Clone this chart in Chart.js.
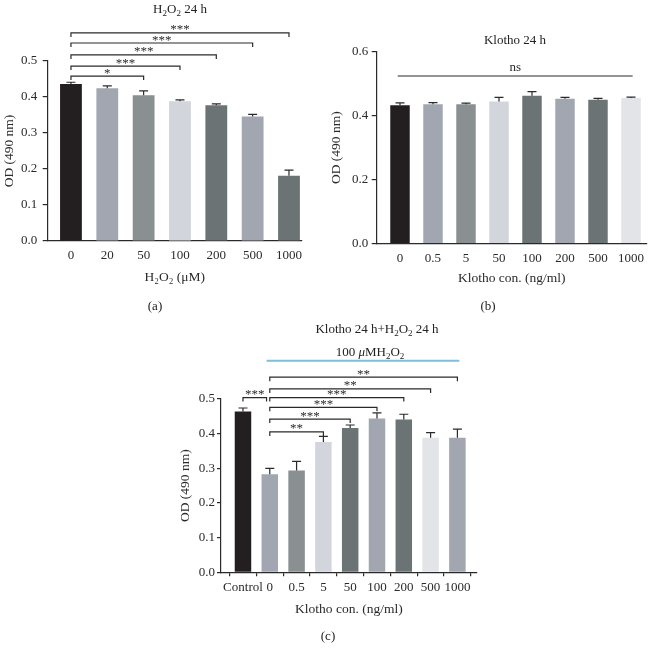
<!DOCTYPE html>
<html>
<head>
<meta charset="utf-8">
<script src="https://cdn.jsdelivr.net/npm/chart.js@4.4.1/dist/chart.umd.min.js"></script>
<style>
    body { margin: 0; background: #fff; width: 654px; height: 653px; position: relative; overflow: hidden;
           font-family: "Liberation Serif", "DejaVu Serif", serif; color: #222; }
    canvas { position: absolute; }
    .txt { position: absolute; font-size: 13px; line-height: 1; white-space: nowrap; transform: translate(-50%, -50%); }
    .txt sub { font-size: 9px; vertical-align: -3px; line-height: 0; }
</style>
</head>
<body>
<canvas id="chartA" width="310" height="320" style="left:0;top:0"></canvas>
<canvas id="chartB" width="344" height="320" style="left:310px;top:0"></canvas>
<canvas id="chartC" width="330" height="333" style="left:160px;top:320px"></canvas>

<div class="txt" style="left:180px;top:8px">H<sub>2</sub>O<sub>2</sub> 24 h</div>
<div class="txt" style="left:155px;top:305px">(a)</div>
<div class="txt" style="left:515px;top:39px">Klotho 24 h</div>
<div class="txt" style="left:488px;top:305px">(b)</div>
<div class="txt" style="left:377px;top:328px">Klotho 24 h+H<sub>2</sub>O<sub>2</sub> 24 h</div>
<div class="txt" style="left:370px;top:351px">100 <i>μ</i>MH<sub>2</sub>O<sub>2</sub></div>
<div class="txt" style="left:328px;top:635px">(c)</div>

<script>
// (a) H2O2 24 h
const h2o2Doses = ['0', '20', '50', '100', '200', '500', '1000'];
const h2o2Od = [0.436, 0.424, 0.405, 0.388, 0.377, 0.346, 0.181];
const h2o2Sd = [0.005, 0.007, 0.012, 0.004, 0.004, 0.006, 0.016];
// [from, to, height, label]
const h2o2Sig = [[0, 2, 0.458, '*'], [0, 3, 0.486, '***'], [0, 4, 0.517, '***'], [0, 5, 0.550, '***'], [0, 6, 0.578, '***']];

// (b) Klotho 24 h
const klothoDoses = ['0', '0.5', '5', '50', '100', '200', '500', '1000'];
const klothoOd = [0.433, 0.436, 0.436, 0.444, 0.462, 0.453, 0.450, 0.455];
const klothoSd = [0.007, 0.005, 0.003, 0.013, 0.013, 0.004, 0.004, 0.003];
const klothoSig = [[-0.07, 7.05, 0.524, 'ns']];

// (c) Klotho 24 h + H2O2 24 h
const comboDoses = ['Control', '0', '0.5', '5', '50', '100', '200', '500', '1000'];
const comboOd = [0.464, 0.283, 0.294, 0.376, 0.416, 0.444, 0.441, 0.388, 0.388];
const comboSd = [0.010, 0.017, 0.026, 0.016, 0.009, 0.016, 0.015, 0.015, 0.025];
const comboSig = [[0, 0.88, 0.504, '***'], [1, 3, 0.405, '**'], [1, 4, 0.442, '***'], [1, 5, 0.476, '***'],
                  [1, 6, 0.504, '***'], [1, 7, 0.529, '**'], [1, 8, 0.563, '**']];
const comboH2o2Line = [0.88, 8.07, 0.61];

const BLACK = '#231f20', SLATE = '#a1a6b0', GRAY = '#8a8f91', LIGHT = '#d2d5dc', DARK = '#6c7374', PALE = '#e3e4e8';
const INK = '#2a2a2a';

Chart.defaults.font.family = '"Liberation Serif", "DejaVu Serif", serif';
Chart.defaults.font.size = 13;
Chart.defaults.color = INK;

// error bars, significance brackets and the blue treatment line
const sigPlugin = {
    id: 'sig',
    afterDatasetsDraw(chart, args, opts) {
        const ctx = chart.ctx;
        const x = chart.scales.x, y = chart.scales.y;
        const points = chart.data.datasets[0].data;
        const bars = chart.getDatasetMeta(0).data;
        ctx.save();
        ctx.strokeStyle = INK;
        ctx.lineWidth = 1.2;
        opts.sd.forEach((sd, i) => {
            const bx = bars[i].x;
            const top = y.getPixelForValue(points[i].y + sd);
            ctx.beginPath();
            ctx.moveTo(bx, bars[i].y);
            ctx.lineTo(bx, top);
            ctx.moveTo(bx - 4.5, top);
            ctx.lineTo(bx + 4.5, top);
            ctx.stroke();
        });
        ctx.fillStyle = INK;
        ctx.textAlign = 'center';
        ctx.textBaseline = 'alphabetic';
        opts.brackets.forEach(([from, to, h, label]) => {
            const x1 = x.getPixelForValue(from), x2 = x.getPixelForValue(to);
            const py = y.getPixelForValue(h);
            const drop = label === 'ns' ? 0 : 4;
            ctx.beginPath();
            ctx.moveTo(x1, py + drop);
            ctx.lineTo(x1, py);
            ctx.lineTo(x2, py);
            ctx.lineTo(x2, py + drop);
            ctx.stroke();
            ctx.font = '13px "Liberation Serif", serif';
            ctx.fillText(label, (x1 + x2) / 2, label === 'ns' ? py - 5 : py + 0.5);
        });
        if (opts.blueLine) {
            const [from, to, h] = opts.blueLine;
            ctx.strokeStyle = '#7fbddf';
            ctx.lineWidth = 2;
            ctx.beginPath();
            ctx.moveTo(x.getPixelForValue(from), y.getPixelForValue(h));
            ctx.lineTo(x.getPixelForValue(to), y.getPixelForValue(h));
            ctx.stroke();
        }
        ctx.restore();
    }
};

function makeChart(id, cfg) {
    const labels = cfg.labels;
    return new Chart(document.getElementById(id), {
        type: 'bar',
        data: {
            datasets: [{
                data: cfg.values.map((v, i) => ({x: i, y: v})),
                backgroundColor: cfg.colors,
                borderWidth: 0,
                categoryPercentage: 1,
                barPercentage: cfg.barPct
            }]
        },
        options: {
            responsive: false,
            animation: false,
            layout: { padding: cfg.padding },
            plugins: {
                legend: { display: false },
                tooltip: { enabled: false },
                sig: { sd: cfg.sd, brackets: cfg.brackets, blueLine: cfg.blueLine }
            },
            scales: {
                x: {
                    type: 'linear',
                    offset: false,
                    min: cfg.xMin,
                    max: cfg.xMax,
                    afterBuildTicks: s => { s.ticks = labels.map((_, i) => ({value: i})); },
                    afterFit: s => { s.height = cfg.xHeight; },
                    grid: { display: cfg.xTicks, drawOnChartArea: false, drawTicks: cfg.xTicks, tickLength: 4, color: INK, lineWidth: 1.2 },
                    border: { display: true, color: INK, width: 1.2 },
                    ticks: { autoSkip: false, maxRotation: 0, padding: cfg.xLabelPad, callback: (v, i) => labels[i] },
                    title: { display: true, text: cfg.xTitle, font: { size: 13.5 }, padding: 0 }
                },
                y: {
                    min: 0,
                    max: cfg.yMax,
                    afterFit: s => { s.width = cfg.yWidth; },
                    grid: { drawOnChartArea: false, tickLength: cfg.yTick, color: INK, lineWidth: 1.2 },
                    border: { display: true, color: INK, width: 1.2 },
                    ticks: { stepSize: cfg.yStep, padding: cfg.yLabelPad, callback: v => v.toFixed(1) },
                    title: { display: true, text: 'OD (490 nm)', font: { size: 13.5 }, padding: { top: cfg.yTitlePad, bottom: 0 } }
                }
            }
        },
        plugins: [sigPlugin]
    });
}

makeChart('chartA', {
    labels: h2o2Doses, values: h2o2Od, sd: h2o2Sd, brackets: h2o2Sig,
    colors: [BLACK, SLATE, GRAY, LIGHT, DARK, SLATE, DARK],
    barPct: 0.6, xMin: -0.64, xMax: 6.35, yMax: 0.5, yStep: 0.1,
    padding: { left: 0, top: 61, right: 8.3, bottom: 34.9 },
    xHeight: 44.1, yWidth: 47.7, xTicks: false, xLabelPad: 7.2, yTick: 5, yLabelPad: 5.5, yTitlePad: 1,
    xTitle: 'H₂O₂ (μM)'
});

makeChart('chartB', {
    labels: klothoDoses, values: klothoOd, sd: klothoSd, brackets: klothoSig,
    colors: [BLACK, SLATE, GRAY, LIGHT, DARK, SLATE, DARK, PALE],
    barPct: 0.59, xMin: -0.706, xMax: 7.476, yMax: 0.6, yStep: 0.2,
    padding: { left: 16, top: 51.7, right: 7.3, bottom: 33.9 },
    xHeight: 42.4, yWidth: 50.7, xTicks: false, xLabelPad: 6.8, yTick: 5, yLabelPad: 3.4, yTitlePad: 2,
    xTitle: 'Klotho con. (ng/ml)'
});

makeChart('chartC', {
    labels: comboDoses, values: comboOd, sd: comboSd, brackets: comboSig, blueLine: comboH2o2Line,
    colors: [BLACK, SLATE, GRAY, LIGHT, DARK, SLATE, DARK, PALE, SLATE],
    barPct: 0.615, xMin: -0.82, xMax: 8.72, yMax: 0.5, yStep: 0.1,
    padding: { left: 15, top: 79, right: 13.3, bottom: 35.9 },
    xHeight: 44.8, yWidth: 46, xTicks: true, xLabelPad: 3.4, yTick: 4, yLabelPad: 2, yTitlePad: 2,
    xTitle: 'Klotho con. (ng/ml)'
});
</script>
</body>
</html>
